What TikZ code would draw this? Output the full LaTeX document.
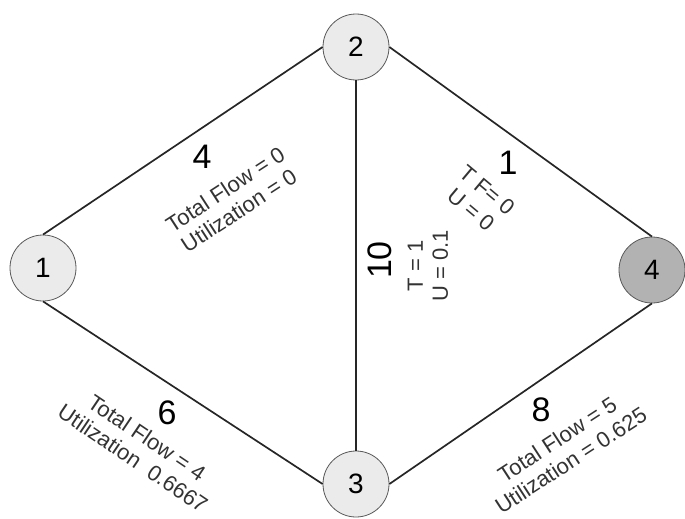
\documentclass[tikz,border=0pt]{standalone}
\usepackage{fontspec}
\setmainfont{Liberation Sans}
\begin{document}
\begin{tikzpicture}[x=1pt,y=-1pt,
  vert/.style={circle,draw=black!65,line width=0.8pt,fill=black!8,minimum size=66pt,inner sep=0pt,font=\fontsize{28}{30}\selectfont},
  link/.style={line width=1.7pt,draw=black!85},
  num/.style={font=\fontsize{34}{36}\selectfont,inner sep=0pt},
  info/.style={font=\fontsize{22}{25}\selectfont,align=center,text=black!80,inner sep=0pt}]
\useasboundingbox (0,0) rectangle (685,519);
\node[vert] (n1) at (43,268) {1};
\node[vert] (n2) at (356,47) {2};
\node[vert] (n3) at (356,484) {3};
\node[vert,fill=black!30] (n4) at (652,270) {4};
\draw[link] (n1.north) -- (n2.west);
\draw[link] (n1.south) -- (n3.west);
\draw[link] (n2.south) -- (n3.north);
\draw[link] (n2.east) -- (n4.north);
\draw[link] (n3.east) -- (n4.south);
\node[num] (w12) at (202,157) {4};
\node[num] (w13) at (167,413) {6};
\node[num] (w34) at (541,410) {8};
\node[num] (w24) at (508,163) {1};
\node[num,rotate=90] (w23) at (380,260) {10};
\node[info,rotate=33] (i12) at (232,200) {Total Flow = 0\\Utilization = 0};
\node[info,rotate=-34] (i13) at (140,448) {Total Flow = 4\\Utilization \ 0.6667};
\node[info,rotate=33] (i34) at (564,450) {Total Flow = 5\\Utilization = 0.625};
\node[info,rotate=-40] (i24) at (479,200) {T F= 0\\U = 0};
\node[info,rotate=90] (i23) at (428,266) {T = 1\\U = 0.1};
\end{tikzpicture}
\end{document}
